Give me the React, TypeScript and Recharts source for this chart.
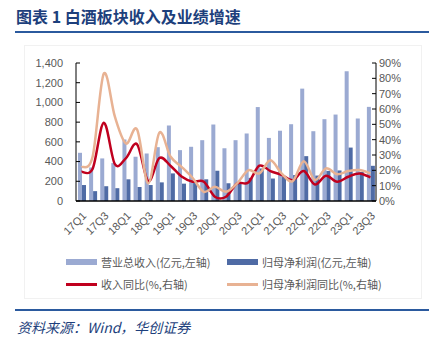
import { ComposedChart, Bar, Line, XAxis, YAxis } from 'recharts'

const quarters = [
  '17Q1', '17Q2', '17Q3', '17Q4', '18Q1', '18Q2', '18Q3', '18Q4',
  '19Q1', '19Q2', '19Q3', '19Q4', '20Q1', '20Q2', '20Q3', '20Q4',
  '21Q1', '21Q2', '21Q3', '21Q4', '22Q1', '22Q2', '22Q3', '22Q4',
  '23Q1', '23Q2', '23Q3',
]

// 营业总收入（亿元）
const revenue = [
  489, 340, 432, 385, 624, 449, 482, 546,
  766, 516, 550, 617, 776, 535, 617, 685,
  953, 640, 713, 779, 1140, 708, 830, 877,
  1316, 837, 955,
]

// 归母净利润（亿元）
const profit = [
  162, 100, 150, 130, 220, 142, 162, 189,
  280, 176, 196, 220, 307, 180, 185, 235,
  330, 228, 243, 263, 455, 258, 305, 310,
  542, 295, 357,
]

// 收入同比（%）
const revenueYoy = [
  19, 21, 51, 24, 28, 37, 13, 28,
  23, 16, 12.6, 12.6, 2.8, 2.8, 11.5, 12,
  23, 19.5, 17, 13.5, 19.5, 10.8, 16.5, 12.6,
  15.8, 18, 15.4,
]

// 归母净利润同比（%）
const profitYoy = [
  22, 29, 83, 55, 37.5, 46.6, 11.5, 44.5,
  29, 22.3, 15, 6, 9.3, 6, 11.5, 20,
  18, 26.5, 18, 13, 26, 13.7, 21.3, 17.4,
  19.5, 20.2, 18,
]

const leftTicks = [0, 200, 400, 600, 800, 1000, 1200, 1400]
const rightTicks = [0, 10, 20, 30, 40, 50, 60, 70, 80, 90]

const data = quarters.map((q, i) => ({
  q,
  revenue: revenue[i],
  profit: profit[i],
  revenueYoy: revenueYoy[i],
  profitYoy: profitYoy[i],
}))

// Excel 风格的平滑曲线（Catmull-Rom）
function excelSmooth(context: any) {
  let pts: number[][] = []
  return {
    areaStart() {},
    areaEnd() {},
    lineStart() { pts = [] },
    lineEnd() {
      const n = pts.length
      if (!n) return
      context.moveTo(pts[0][0], pts[0][1])
      for (let i = 0; i < n - 1; i++) {
        const p0 = pts[Math.max(i - 1, 0)]
        const p1 = pts[i]
        const p2 = pts[i + 1]
        const p3 = pts[Math.min(i + 2, n - 1)]
        context.bezierCurveTo(
          p1[0] + (p2[0] - p0[0]) / 6, p1[1] + (p2[1] - p0[1]) / 6,
          p2[0] - (p3[0] - p1[0]) / 6, p2[1] - (p3[1] - p1[1]) / 6,
          p2[0], p2[1],
        )
      }
    },
    point(x: number, y: number) { pts.push([+x, +y]) },
  }
}

const tickStyle = { fontSize: 11, fill: '#595959', fontFamily: '"Liberation Sans", Arial, sans-serif' }
const navy = '#1d3f7c'
const cjk = '"Noto Sans CJK SC", sans-serif'

const legendItems = [
  { label: '营业总收入(亿元,左轴)', color: '#9baad2', bar: true, left: 66, top: 255 },
  { label: '归母净利润(亿元,左轴)', color: '#4f6ba5', bar: true, left: 227, top: 255 },
  { label: '收入同比(%,右轴)', color: '#c0001e', bar: false, left: 66, top: 277 },
  { label: '归母净利润同比(%,右轴)', color: '#e8b293', bar: false, left: 227, top: 277 },
]

export default function App() {
  return (
    <div style={{
      position: 'absolute', left: 0, top: 0, width: 437, height: 342,
      background: '#fff', fontFamily: cjk, overflow: 'hidden',
    }}>
      <div style={{
        position: 'absolute', left: 16, top: 4, fontSize: 16, fontWeight: 700,
        color: navy, whiteSpace: 'nowrap',
      }}>
        图表 1 白酒板块收入及业绩增速
      </div>
      <div style={{ position: 'absolute', left: 15, top: 31, width: 414, height: 2, background: '#2b5a9e' }} />
      <div style={{
        position: 'absolute', left: 24, top: 45, width: 396, height: 252,
        border: '1px solid #f1f1f1',
      }} />

      <div style={{ position: 'absolute', left: 0, top: 0 }}>
        <ComposedChart
          width={437} height={240} data={data}
          margin={{ top: 63, right: 11, left: 26, bottom: 0 }}
          barGap={0}
        >
          <XAxis
            dataKey="q" interval={1} height={39}
            axisLine={{ stroke: '#000', strokeWidth: 1.5 }} tickLine={false}
            tickSize={6} tickMargin={4}
            angle={-45} textAnchor="end" tick={tickStyle}
          />
          <YAxis
            yAxisId="left" width={50} domain={[0, 1400]} ticks={leftTicks} interval={0}
            tickFormatter={(v: number) => v.toLocaleString('en-US')}
            axisLine={{ stroke: '#000' }} tickLine={{ stroke: '#000' }}
            tickSize={-4} tickMargin={17} tick={tickStyle}
          />
          <YAxis
            yAxisId="right" orientation="right" width={50} domain={[0, 90]} ticks={rightTicks} interval={0}
            tickFormatter={(v: number) => `${v}%`}
            axisLine={{ stroke: '#000' }} tickLine={{ stroke: '#000' }}
            tickSize={-4} tickMargin={7} tick={{ ...tickStyle, textAnchor: 'start' }}
          />
          <Bar yAxisId="left" dataKey="revenue" fill="#9baad2" barSize={4} isAnimationActive={false} />
          <Bar yAxisId="left" dataKey="profit" fill="#4f6ba5" barSize={4} isAnimationActive={false} />
          <Line
            yAxisId="right" dataKey="revenueYoy" type={excelSmooth as any}
            stroke="#c0001e" strokeWidth={2.5} dot={false} isAnimationActive={false}
          />
          <Line
            yAxisId="right" dataKey="profitYoy" type={excelSmooth as any}
            stroke="#e8b293" strokeWidth={2.5} dot={false} isAnimationActive={false}
          />
        </ComposedChart>
      </div>

      {legendItems.map(it => (
        <div key={it.label} style={{
          position: 'absolute', left: it.left, top: it.top, height: 14,
          display: 'flex', alignItems: 'center', whiteSpace: 'nowrap',
        }}>
          <span style={{
            display: 'inline-block', width: 31, height: it.bar ? 6 : 3,
            background: it.color, marginRight: 4,
          }} />
          <span style={{ fontSize: 11, color: '#595959' }}>{it.label}</span>
        </div>
      ))}

      <div style={{ position: 'absolute', left: 15, top: 309, width: 414, height: 2, background: '#2b5a9e' }} />
      <div style={{
        position: 'absolute', left: 17, top: 317, fontSize: 14, fontStyle: 'italic',
        color: navy, whiteSpace: 'nowrap',
      }}>
        资料来源：Wind，华创证券
      </div>
    </div>
  )
}
